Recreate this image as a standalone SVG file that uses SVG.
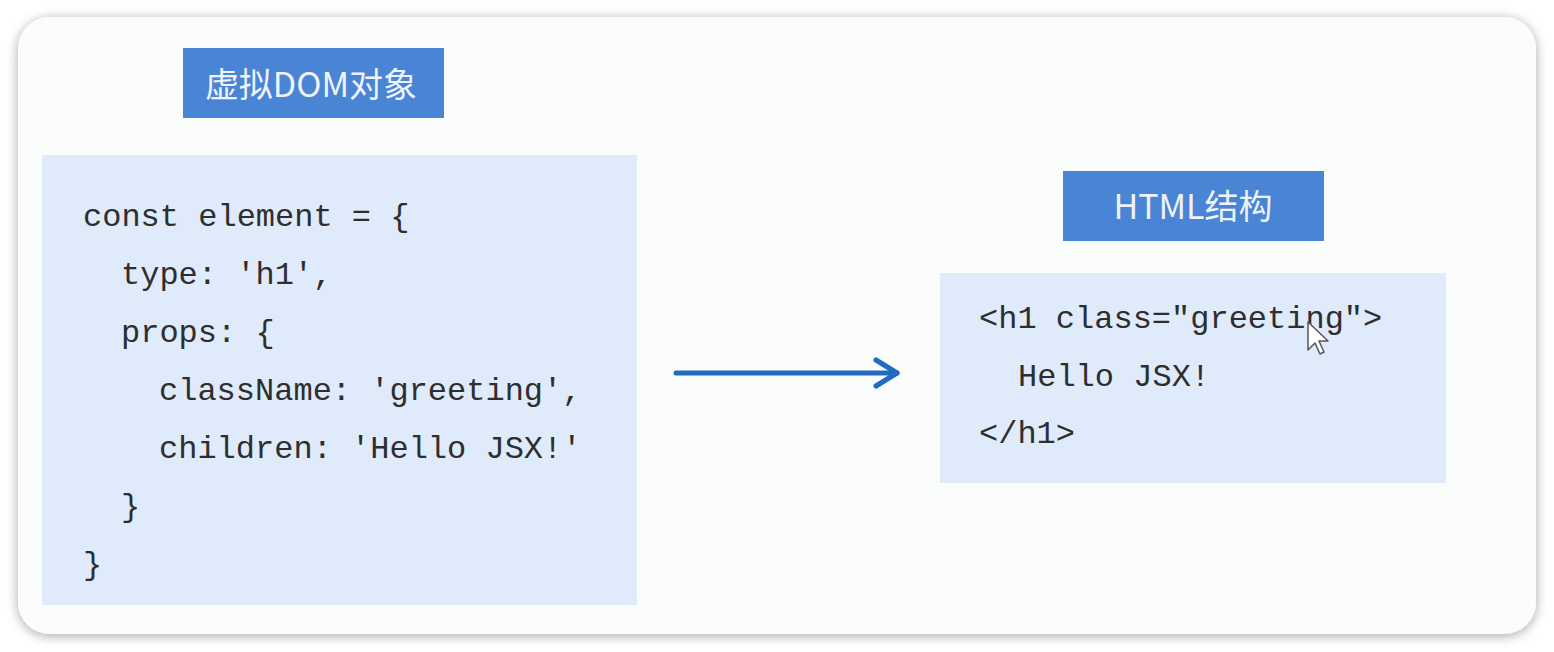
<svg xmlns="http://www.w3.org/2000/svg" width="1554" height="652" viewBox="0 0 1554 652">
  <defs>
    <filter id="shadow" x="-5%" y="-10%" width="110%" height="120%">
      <feGaussianBlur in="SourceAlpha" stdDeviation="6"/>
      <feOffset dx="0" dy="2" result="b"/>
      <feComponentTransfer><feFuncA type="linear" slope="0.35"/></feComponentTransfer>
      <feMerge><feMergeNode/><feMergeNode in="SourceGraphic"/></feMerge>
    </filter>
    <marker id="chev" viewBox="0 0 12 14" refX="9" refY="7" markerWidth="12" markerHeight="14" markerUnits="userSpaceOnUse" orient="auto" overflow="visible">
      <path d="M-12,-6 L9,7 L-12,20" fill="none" stroke="#1f6cc0" stroke-width="5" stroke-linecap="round" stroke-linejoin="round"/>
    </marker>
  </defs>
  <style>
    .label { fill: #4a84d4; }
    .labeltext { font-family: "Noto Sans CJK SC", "Noto Sans", sans-serif; font-size: 34px; fill: #eef3fb; text-anchor: middle; }
    .codebox { fill: #dfeafb; }
    .code { font-family: "Liberation Mono", "Courier New", monospace; font-size: 32px; fill: #2e2e2e; }
  </style>
  <rect x="0" y="0" width="1554" height="652" fill="#ffffff"/>
  <rect x="18" y="17" width="1518" height="617" rx="32" ry="32" fill="#fbfdfc" filter="url(#shadow)"/>

  <g id="vdom-label">
    <rect class="label" x="183" y="48" width="261" height="70"/>
    <text class="labeltext" x="311" y="97">虚拟DOM对象</text>
  </g>

  <g id="vdom-code">
    <rect class="codebox" x="42" y="155" width="595" height="450"/>
    <text class="code" x="83" y="226">const element = {</text>
    <text class="code" x="121" y="284">type: 'h1',</text>
    <text class="code" x="121" y="342">props: {</text>
    <text class="code" x="159" y="400">className: 'greeting',</text>
    <text class="code" x="159" y="458">children: 'Hello JSX!'</text>
    <text class="code" x="121" y="516">}</text>
    <text class="code" x="83" y="574">}</text>
  </g>

  <g id="html-label">
    <rect class="label" x="1063" y="171" width="261" height="70"/>
    <text class="labeltext" x="1193" y="219">HTML结构</text>
  </g>

  <g id="html-code">
    <rect class="codebox" x="940" y="273" width="506" height="210"/>
    <text class="code" x="979" y="328">&lt;h1 class="greeting"&gt;</text>
    <text class="code" x="1018" y="386">Hello JSX!</text>
    <text class="code" x="979" y="443">&lt;/h1&gt;</text>
  </g>

  <g id="connectors">
    <line x1="676" y1="373" x2="897" y2="373" stroke="#1f6cc0" stroke-width="5" stroke-linecap="round" marker-end="url(#chev)"/>
  </g>

  <path d="M1308,322 L1308,350 L1315,343 L1320,354 L1324,352 L1319,341 L1328,341 Z" fill="#ffffff" stroke="#555" stroke-width="1.5" stroke-linejoin="round"/>
</svg>
